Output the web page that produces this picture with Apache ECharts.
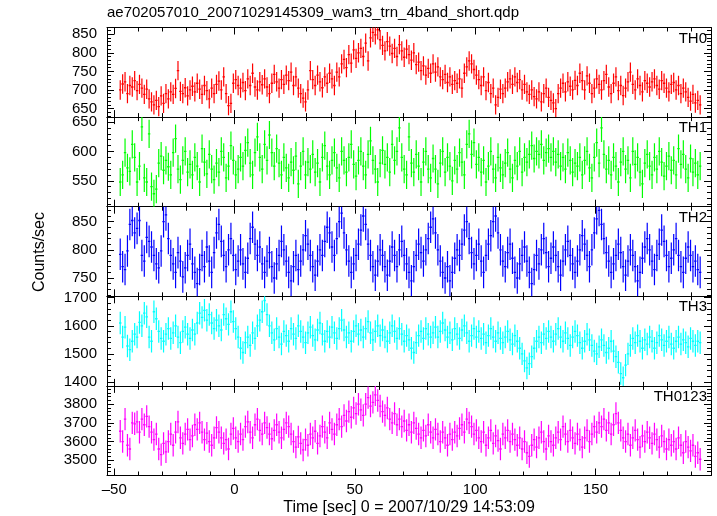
<!DOCTYPE html>
<html><head><meta charset="utf-8">
<script src="https://cdn.jsdelivr.net/npm/echarts@6/dist/echarts.min.js"></script>
<style>html,body{margin:0;padding:0;background:#fff}#c{width:717px;height:516px}</style>
</head><body><div id="c"></div>
<script>
const chartTitle = 'ae702057010_20071029145309_wam3_trn_4band_short.qdp';
const xTitle = 'Time [sec] 0 = 2007/10/29 14:53:09';
const yTitle = 'Counts/sec';
const panelNames = ['TH0', 'TH1', 'TH2', 'TH3', 'TH0123'];
const panelColors = ['#ff0000', '#00ff00', '#0000ff', '#00ffff', '#ff00ff'];
const timeStart = -47.5;   // centre of first 1-s bin
const binWidth = 1;

const th0 = [
700,716,722,690,712,708,725,698,715,705,
688,702,676,668,660,672,655,684,664,690,
676,695,688,704,752,696,690,706,684,700,
710,695,718,702,688,712,698,676,705,690,
715,724,700,735,690,658,664,718,728,712,
705,720,698,730,712,745,708,700,722,714,
730,708,690,718,742,722,705,728,715,740,
725,748,712,735,705,690,678,668,700,752,
728,712,740,722,706,735,718,745,730,712,
748,735,770,782,760,795,772,808,785,800,
812,790,826,778,840,855,848,862,835,820,
805,830,818,798,812,790,822,805,788,810,
795,780,800,768,775,752,765,740,758,745,
770,748,762,735,728,742,720,735,715,725,
718,730,705,745,762,778,770,755,740,728,
712,735,698,720,690,705,660,680,702,690,
705,722,730,715,735,720,728,700,715,695,
688,700,682,676,695,668,690,705,680,672,
665,650,690,705,718,695,722,710,700,726,
712,745,725,700,738,718,690,705,730,715,
700,725,742,708,690,718,735,698,712,685,
705,722,748,715,700,730,712,695,725,718,
708,722,730,712,702,725,718,705,695,715,
720,700,712,690,705,695,680,670,688,665,
672,660];

const th1 = [
548,560,598,572,566,612,590,548,575,642,
555,548,630,540,528,536,580,592,568,585,
574,560,598,622,570,552,585,600,565,578,
560,590,575,548,605,582,562,595,570,552,
580,565,600,590,555,575,610,585,560,570,
590,575,602,615,580,560,598,625,590,570,
612,585,628,598,575,605,580,560,590,572,
555,582,568,592,545,575,600,560,582,570,
595,565,580,548,590,610,575,560,585,598,
572,555,600,585,565,590,612,578,558,585,
600,575,560,595,618,585,570,548,580,602,
578,590,565,612,585,600,640,590,570,560,
625,580,565,595,575,548,582,600,570,555,
588,570,545,580,600,565,590,575,550,585,
570,598,582,560,612,630,595,615,578,590,
565,585,548,575,600,570,555,590,572,560,
580,598,570,555,585,575,600,565,590,582,
595,610,588,600,595,612,585,598,605,590,
600,582,595,575,590,570,598,585,565,580,
575,590,560,585,600,572,555,590,615,580,
640,595,570,585,560,590,575,548,582,600,
570,585,555,600,578,590,565,545,580,595,
575,560,590,570,600,582,558,575,592,568,
585,560,605,578,595,570,555,588,565,580,
560,575];

const th2 = [
792,770,765,798,845,852,830,838,852,790,
780,822,815,805,790,775,768,798,850,862,
820,790,775,760,795,780,752,768,790,810,
775,760,740,765,790,770,805,780,760,795,
830,845,815,790,770,800,820,790,765,780,
800,775,760,785,820,840,810,790,805,775,
760,780,795,770,750,775,790,815,800,780,
760,745,770,790,765,780,800,825,810,790,
770,755,780,800,790,815,840,830,805,790,
820,850,865,830,800,780,760,775,790,810,
835,860,845,810,790,770,755,780,800,790,
770,755,780,805,790,770,800,815,790,775,
760,745,770,790,810,795,780,800,820,840,
855,830,800,780,760,750,770,745,760,785,
800,790,810,835,850,820,795,775,790,810,
780,760,790,810,825,850,860,830,800,780,
770,795,810,785,760,750,775,790,805,780,
760,740,765,790,775,800,820,795,770,785,
805,790,770,755,780,800,815,790,775,760,
780,800,825,810,790,770,800,830,855,870,
845,820,795,780,760,775,790,810,795,770,
755,780,800,790,770,745,760,785,805,820,
800,780,765,790,810,835,815,790,770,785,
800,820,790,770,760,785,805,790,770,780,
765,760];

const th3 = [
1610,1560,1595,1528,1515,1545,1570,1560,1612,1600,
1645,1632,1560,1545,1650,1625,1580,1555,1545,1570,
1590,1555,1575,1600,1560,1540,1580,1595,1570,1555,
1585,1570,1610,1645,1630,1655,1620,1640,1610,1590,
1620,1600,1585,1640,1625,1605,1650,1615,1590,1560,
1520,1505,1540,1560,1530,1575,1555,1600,1620,1650,
1690,1640,1600,1575,1550,1590,1560,1535,1580,1565,
1545,1590,1570,1555,1600,1580,1560,1540,1575,1595,
1565,1550,1585,1610,1570,1545,1580,1560,1595,1575,
1555,1590,1620,1585,1560,1575,1545,1580,1600,1570,
1585,1560,1590,1615,1575,1550,1580,1600,1565,1585,
1560,1545,1575,1600,1580,1555,1590,1570,1545,1565,
1550,1520,1505,1540,1565,1580,1555,1590,1570,1560,
1575,1595,1560,1580,1610,1585,1560,1575,1550,1590,
1570,1555,1585,1600,1575,1545,1565,1590,1560,1580,
1555,1570,1540,1565,1590,1560,1545,1575,1555,1540,
1560,1580,1550,1535,1565,1545,1520,1500,1475,1450,
1465,1490,1520,1545,1560,1540,1570,1555,1580,1560,
1545,1570,1590,1560,1545,1575,1555,1530,1560,1580,
1565,1540,1520,1545,1570,1550,1530,1510,1500,1525,
1550,1530,1505,1520,1545,1510,1490,1470,1430,1415,
1460,1500,1530,1555,1540,1565,1545,1520,1550,1535,
1560,1545,1520,1540,1565,1550,1530,1545,1560,1535,
1520,1545,1560,1535,1550,1540,1525,1555,1545,1530,
1545,1540];

const th0123 = [
3655,3600,3720,3580,3560,3700,3695,3705,3650,3720,
3690,3735,3680,3650,3610,3640,3560,3530,3590,3545,
3600,3640,3580,3650,3705,3620,3590,3640,3665,3610,
3630,3690,3665,3700,3650,3610,3645,3600,3580,3620,
3675,3650,3620,3590,3610,3560,3640,3670,3620,3600,
3640,3610,3680,3705,3650,3620,3690,3720,3660,3640,
3700,3675,3640,3615,3660,3690,3650,3620,3665,3700,
3680,3640,3600,3570,3625,3590,3555,3610,3580,3640,
3620,3655,3590,3630,3680,3650,3620,3700,3665,3640,
3690,3720,3680,3740,3710,3760,3730,3780,3750,3800,
3770,3740,3800,3835,3790,3810,3850,3820,3790,3760,
3740,3780,3720,3700,3750,3690,3720,3680,3710,3660,
3690,3650,3700,3670,3640,3620,3660,3630,3690,3650,
3620,3665,3640,3600,3650,3620,3580,3640,3610,3650,
3630,3670,3690,3650,3720,3700,3680,3640,3660,3620,
3600,3650,3580,3620,3660,3590,3630,3605,3560,3640,
3620,3660,3600,3640,3610,3580,3620,3560,3600,3540,
3520,3580,3610,3570,3620,3650,3600,3560,3630,3600,
3580,3620,3650,3610,3680,3640,3600,3660,3620,3590,
3640,3610,3570,3620,3660,3600,3640,3680,3650,3700,
3680,3720,3660,3700,3640,3690,3750,3700,3660,3620,
3600,3640,3580,3620,3660,3610,3570,3630,3600,3650,
3620,3590,3640,3610,3570,3630,3600,3560,3610,3580,
3600,3560,3620,3580,3540,3600,3570,3550,3580,3520,
3540,3505];

const panelValues = [th0, th1, th2, th3, th0123];
const panelErrors = [26, 24, 28, 40, 60];

const yMin = [627, 506, 717.5, 1386, 3418];
const yMax = [868, 658.5, 876.5, 1705, 3898];
const yMajorTicks = [
  [650, 700, 750, 800, 850],
  [550, 600, 650],
  [750, 800, 850],
  [1400, 1500, 1600, 1700],
  [3500, 3600, 3700, 3800]
];
const yMinorStep = [10, 10, 10, 20, 20];
const xMin = -53, xMax = 198;
const xMajorTicks = [-50, 0, 50, 100, 150];
const xMinorStep = 10;

const FONT = '"Liberation Sans", Arial, Helvetica, sans-serif';
const gridLeft = 107, gridRight = 6, gridTop = 27.5, panelH = 89.6;

function stepsIn(lo, hi, step) {
  const out = [];
  for (let v = Math.ceil(lo / step) * step; v <= hi + 1e-9; v += step) out.push(+v.toFixed(6));
  return out;
}
function fmt(v) { return v < 0 ? '\u2013' + Math.abs(v) : String(v); }
function plain(v) { return String(v); }

const grids = [], xAxes = [], yAxes = [], series = [], graphics = [];
const axisLineStyle = { show: true, onZero: false, lineStyle: { color: '#000', width: 1 } };
const noLine = { show: false, onZero: false };
const xMinorTicks = stepsIn(xMin, xMax, xMinorStep);

for (let p = 0; p < 5; p++) {
  const top = gridTop + p * panelH;
  grids.push({ left: gridLeft, right: gridRight, top: top, height: panelH });
  const yMinor = stepsIn(yMin[p], yMax[p], yMinorStep[p]);
  const xi = xAxes.length, yi = yAxes.length;
  ['bottom', 'top'].forEach(pos => {
    xAxes.push({
      type: 'value', gridIndex: p, min: xMin, max: xMax, position: pos,
      axisLine: axisLineStyle,
      axisTick: { show: true, inside: true, length: 7, customValues: xMajorTicks, lineStyle: { color: '#000', width: 1 } },
      axisLabel: { show: pos === 'bottom' && p === 4, customValues: xMajorTicks, formatter: fmt,
        color: '#000', fontSize: 15, fontFamily: FONT, margin: 7 },
      splitLine: { show: false }
    });
    xAxes.push({
      type: 'value', gridIndex: p, min: xMin, max: xMax, position: pos,
      axisLine: noLine,
      axisTick: { show: true, inside: true, length: 4, customValues: xMinorTicks, lineStyle: { color: '#000', width: 1 } },
      axisLabel: { show: false }, splitLine: { show: false }
    });
  });
  ['left', 'right'].forEach(pos => {
    yAxes.push({
      type: 'value', gridIndex: p, min: yMin[p], max: yMax[p], position: pos,
      axisLine: axisLineStyle,
      axisTick: { show: true, inside: true, length: 7, customValues: yMajorTicks[p], lineStyle: { color: '#000', width: 1 } },
      axisLabel: { show: pos === 'left', customValues: yMajorTicks[p], formatter: plain,
        color: '#000', fontSize: 15, fontFamily: FONT, margin: 10 },
      splitLine: { show: false }
    });
    yAxes.push({
      type: 'value', gridIndex: p, min: yMin[p], max: yMax[p], position: pos,
      axisLine: noLine,
      axisTick: { show: true, inside: true, length: 4, customValues: yMinor, lineStyle: { color: '#000', width: 1 } },
      axisLabel: { show: false }, splitLine: { show: false }
    });
  });
  const vals = panelValues[p], err = panelErrors[p];
  series.push({
    type: 'custom', name: panelNames[p], xAxisIndex: xi, yAxisIndex: yi, clip: true,
    itemStyle: { color: panelColors[p] },
    data: vals.map((v, i) => [timeStart + i * binWidth, v, err]),
    renderItem: function (params, api) {
      const t = api.value(0), v = api.value(1), e = api.value(2);
      const a = api.coord([t - binWidth / 2, v]);
      const b = api.coord([t + binWidth / 2, v]);
      const c = api.coord([t, v + e]);
      const d = api.coord([t, v - e]);
      const col = api.visual('color');
      return { type: 'group', children: [
        { type: 'line', shape: { x1: a[0], y1: a[1], x2: b[0], y2: b[1] }, style: { stroke: col, lineWidth: 1.3 } },
        { type: 'line', shape: { x1: c[0], y1: c[1], x2: d[0], y2: d[1] }, style: { stroke: col, lineWidth: 1.2 } }
      ] };
    },
    animation: false
  });
  graphics.push({
    type: 'text', x: 707, y: top + 11,
    style: { text: panelNames[p], fill: '#000', font: '15px ' + FONT, textAlign: 'right', textVerticalAlign: 'middle' }
  });
}

graphics.push({
  type: 'text', x: 409, y: 508,
  style: { text: xTitle, fill: '#000', font: '16px ' + FONT, textAlign: 'center', textVerticalAlign: 'middle' }
});
graphics.push({
  type: 'text', x: 40, y: 252, rotation: Math.PI / 2,
  style: { text: yTitle, fill: '#000', font: '16px ' + FONT, textAlign: 'center', textVerticalAlign: 'middle' }
});

const chart = echarts.init(document.getElementById('c'), null, { renderer: 'canvas' });
chart.setOption({
  animation: false,
  backgroundColor: '#fff',
  title: { text: chartTitle, left: 107, top: 5, padding: 0,
    textStyle: { fontSize: 15, fontWeight: 'normal', fontFamily: FONT, color: '#000' } },
  grid: grids, xAxis: xAxes, yAxis: yAxes, series: series, graphic: graphics
});
</script></body></html>
